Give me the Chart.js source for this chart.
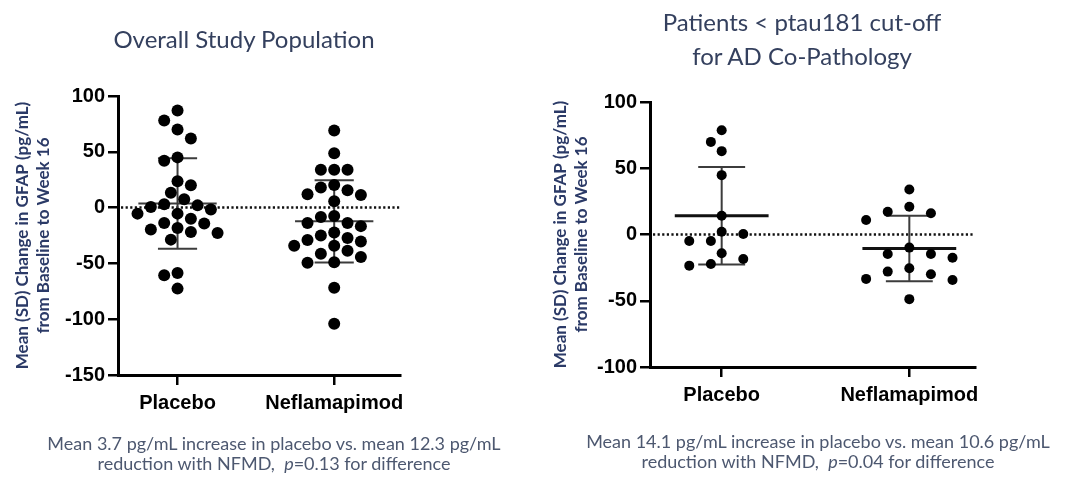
<!DOCTYPE html>
<html lang="en">
<head>
  <meta charset="UTF-8">
  <title>GFAP change from baseline</title>
  <script src="https://cdn.jsdelivr.net/npm/chart.js"></script>
  <style>
    body { margin: 0; width: 1089px; height: 483px; background: #fff; position: relative; overflow: hidden; }
    .panel { position: absolute; top: 0; }
    .title, .caption { position: absolute; text-align: center; font-family: Lato, sans-serif; white-space: nowrap; }
    .title { color: #34405e; font-size: 24px; line-height: 34px; }
    .caption { color: #4d5870; font-size: 18px; line-height: 20px; }
  </style>
</head>
<body>
  <div class="panel" style="left:0"><canvas id="overall" width="540" height="483"></canvas></div>
  <div class="panel" style="left:540px"><canvas id="subgroup" width="549" height="483"></canvas></div>

  <div class="title" style="left:94px; width:300px; top:22px">Overall Study Population</div>
  <div class="title" style="left:652px; width:300px; top:5px">Patients &lt; ptau181 cut-off<br>for AD Co-Pathology</div>

  <div class="caption" style="left:24px; width:500px; top:433px">Mean 3.7 pg/mL increase in placebo vs. mean 12.3 pg/mL<br>reduction with NFMD,&nbsp; <i>p</i>=0.13 for difference</div>
  <div class="caption" style="left:568px; width:500px; top:431px">Mean 14.1 pg/mL increase in placebo vs. mean 10.6 pg/mL<br>reduction with NFMD,&nbsp; <i>p</i>=0.04 for difference</div>

  <script>
    // ---- data ----
    const groups = ['Placebo', 'Neflamapimod'];

    // overall study population
    const overallPlacebo = [87, 78, 70, 62, 45, 42, 23.6, 20, 13.4, 7.4, 3, 2, 0.5, -1.8, -5.4, -5.4, -9.9, -13.8, -14.3,
      -18.3, -19.7, -21.8, -22.8, -28.7, -58.6, -60.7, -72.6];
    const overallNefla = [69, 48.6, 34, 34, 34, 20.3, 18, 15.5, 12, 11.3, 5.6, -7.6, -8.5, -13.9, -13.9, -16.6, -22.3,
      -25.1, -27.2, -29, -30.3, -34.1, -34.1, -38.7, -41.4, -44.3, -49, -49.4, -71.8, -104];
    const overallMean = [3.7, -12.3];
    const overallSD = [40.6, 36.9];
    const overallTicks = [100, 50, 0, -50, -100, -150];

    // patients below ptau181 cut-off
    const subPlacebo = [78.7, 69.9, 62.9, 44.8, 14.2, 2.1, 0.4, -4.9, -4.9, -14.2, -18.5, -22.2, -23.5];
    const subNefla = [34, 20.9, 17.2, 16, 10.9, -9.9, -14.7, -14.7, -17.5, -25.5, -28, -30, -33.5, -34.3, -48.8];
    const subMean = [14.1, -10.6];
    const subSD = [36.8, 24.7];
    const subTicks = [100, 50, 0, -50, -100];

    const yTitle = ['Mean (SD) Change in GFAP (pg/mL)', 'from Baseline to Week 16'];

    // mean line + SD whiskers + dotted zero line
    const meanSdPlugin = {
      id: 'meanSd',
      beforeDatasetsDraw(chart, args, opts) {
        const { ctx, chartArea, scales: { x, y } } = chart;
        ctx.save();
        const y0 = y.getPixelForValue(0);
        ctx.setLineDash([2.2, 2.4]);
        ctx.lineWidth = 2.5;
        ctx.strokeStyle = '#111';
        ctx.beginPath();
        ctx.moveTo(chartArea.left + 3, y0);
        ctx.lineTo(chartArea.right, y0);
        ctx.stroke();
        ctx.setLineDash([]);

        opts.mean.forEach((m, g) => {
          const sd = opts.sd[g];
          const cx = x.getPixelForValue(g);
          const hi = y.getPixelForValue(m + sd), lo = y.getPixelForValue(m - sd), ym = y.getPixelForValue(m);
          ctx.strokeStyle = '#3c3c3c';
          ctx.lineWidth = 2;
          ctx.beginPath();
          ctx.moveTo(cx, hi); ctx.lineTo(cx, lo);
          [hi, lo].forEach(py => {
            ctx.moveTo(x.getPixelForValue(g - 0.125), py);
            ctx.lineTo(x.getPixelForValue(g + 0.125), py);
          });
          ctx.stroke();
          ctx.strokeStyle = opts.meanColor;
          ctx.lineWidth = opts.meanWidth;
          ctx.beginPath();
          ctx.moveTo(x.getPixelForValue(g - 0.25), ym);
          ctx.lineTo(x.getPixelForValue(g + 0.25), ym);
          ctx.stroke();
        });
        ctx.restore();
      }
    };

    // simple beeswarm: spread points sideways so dots don't overlap
    function swarm(chart, step, gap) {
      const xs = chart.scales.x, ys = chart.scales.y;
      const unit = xs.getPixelForValue(1) - xs.getPixelForValue(0);
      chart.data.datasets.forEach((ds, g) => {
        const placed = [];
        ds.data.forEach(p => {
          const py = ys.getPixelForValue(p.y);
          const bias = placed.reduce((s, q) => s + q.x, 0);
          let off = 0;
          for (let k = 0; k < 30; k++) {
            let cands = k === 0 ? [0] : [-k * step, k * step];
            if (bias < 0) cands.reverse();
            const ok = cands.find(c => placed.every(q => Math.hypot(q.x - c, q.y - py) >= gap));
            if (ok !== undefined) { off = ok; break; }
          }
          placed.push({ x: off, y: py });
          p.x = g + off / unit;
        });
      });
      chart.update('none');
    }

    function makeChart(id, o) {
      const ds = o.series.map((vals, g) => ({
        data: vals.map(v => ({ x: g, y: v })),
        pointRadius: o.radius,
        pointHoverRadius: o.radius,
        pointBackgroundColor: '#000',
        pointBorderWidth: 0
      }));
      const chart = new Chart(document.getElementById(id), {
        type: 'scatter',
        data: { datasets: ds },
        plugins: [meanSdPlugin],
        options: {
          responsive: false,
          animation: false,
          events: [],
          layout: { padding: { top: o.top, right: o.right, left: 0, bottom: 0 } },
          plugins: {
            legend: { display: false },
            tooltip: { enabled: false },
            meanSd: { mean: o.mean, sd: o.sd, meanWidth: o.meanWidth, meanColor: o.meanColor }
          },
          scales: {
            x: {
              type: 'linear',
              min: o.xmin,
              max: o.xmax,
              afterBuildTicks: s => { s.ticks = groups.map((_, i) => ({ value: i })); },
              afterFit: s => { s.height = o.xh; },
              ticks: {
                callback: v => groups[v],
                color: '#000',
                padding: 6,
                font: { family: 'Liberation Sans', weight: 'bold', size: 20 }
              },
              grid: { drawOnChartArea: false, tickLength: 10, color: '#000', lineWidth: 2.5 },
              border: { color: '#000', width: 3 }
            },
            y: {
              min: o.ticks[o.ticks.length - 1],
              max: o.ticks[0],
              afterBuildTicks: s => { s.ticks = o.ticks.map(v => ({ value: v })); },
              afterFit: s => { s.width = o.yw; },
              ticks: {
                color: '#000',
                padding: 3,
                font: { family: 'Liberation Sans', weight: 'bold', size: 20 }
              },
              grid: { drawOnChartArea: false, tickLength: 10, color: '#000', lineWidth: 2.5 },
              border: { color: '#000', width: 3 },
              title: {
                display: true,
                text: yTitle,
                color: '#2b3a67',
                padding: { top: o.titlePad, bottom: 0 },
                font: { family: 'Lato', weight: 'bold', size: 17, lineHeight: 1.25 }
              }
            }
          }
        }
      });
      swarm(chart, o.step, o.gap);
      return chart;
    }

    makeChart('overall', {
      series: [overallPlacebo, overallNefla], mean: overallMean, sd: overallSD, ticks: overallTicks,
      radius: 6, step: 6.67, gap: 12.5, top: 96, right: 140, yw: 118, xh: 108,
      xmin: -0.38, xmax: 1.42, titlePad: 12, meanWidth: 2, meanColor: '#3c3c3c'
    });

    makeChart('subgroup', {
      series: [subPlacebo, subNefla], mean: subMean, sd: subSD, ticks: subTicks,
      radius: 5, step: 10.8, gap: 14, top: 102, right: 114, yw: 110, xh: 116,
      xmin: -0.382, xmax: 1.35, titlePad: 9.5, meanWidth: 3, meanColor: '#111'
    });
  </script>
</body>
</html>
